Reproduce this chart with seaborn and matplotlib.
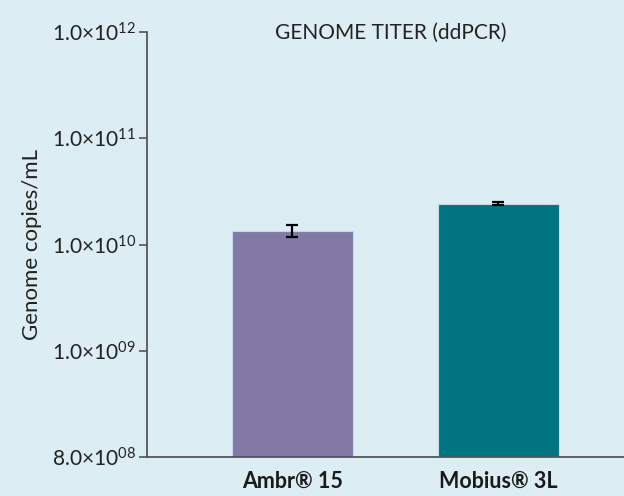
import matplotlib
matplotlib.use("Agg")
import matplotlib.pyplot as plt
import seaborn as sns
import pandas as pd

# data
systems = ["Ambr® 15", "Mobius® 3L"]
titer = [1.35e10, 2.42e10]
titer_err = [0.17e10, 0.07e10]
bar_colors = ["#8279a6", "#007582"]

tick_vals = [1e8, 1e9, 1e10, 1e11, 1e12]
tick_labels = ["8.0×10$^{08}$", "1.0×10$^{09}$", "1.0×10$^{10}$",
               "1.0×10$^{11}$", "1.0×10$^{12}$"]

bg = "#ddedf4"
sns.set_style("white")
plt.rcParams["font.family"] = ["Lato", "DejaVu Sans"]
plt.rcParams["mathtext.fontset"] = "custom"
plt.rcParams["mathtext.rm"] = "Lato"
plt.rcParams["mathtext.it"] = "Lato"

df = pd.DataFrame({"system": systems, "titer": titer})

fig = plt.figure(figsize=(6.24, 4.96), dpi=100, facecolor=bg)
ax = fig.add_axes([0.2356, 0.0786, 0.7644, 0.8569])
ax.set_facecolor(bg)

sns.barplot(data=df, x="system", y="titer", hue="system", palette=bar_colors,
            saturation=1, width=0.59, edgecolor="#c8d8e4", linewidth=0.8,
            legend=False, errorbar=None, ax=ax)
ax.errorbar(range(len(systems)), titer, yerr=titer_err, fmt="none",
            ecolor="black", elinewidth=1.6, capsize=4.5, capthick=1.6)

ax.set_yscale("log")
ax.set_ylim(1e8, 1e12)
ax.set_xlim(-0.706, 1.61)
ax.set_yticks(tick_vals)
ax.set_yticklabels(tick_labels)
ax.minorticks_off()
ax.tick_params(axis="y", which="major", direction="out", length=6, width=1.2,
               color="#555555", labelsize=15, labelcolor="#222222", pad=2, left=True)
ax.tick_params(axis="x", length=0, labelsize=15.5, pad=10)
for lbl in ax.get_xticklabels():
    lbl.set_fontweight("bold")
    lbl.set_color("#1a1a1a")

for s in ["top", "right"]:
    ax.spines[s].set_visible(False)
for s in ["left", "bottom"]:
    ax.spines[s].set_color("#555555")
    ax.spines[s].set_linewidth(1.3)

ax.set_xlabel("")
ax.set_ylabel("Genome copies/mL", fontsize=16, color="#222222")
ax.yaxis.set_label_coords(-0.22, 0.5)
ax.text(0.51, 0.998, "GENOME TITER (ddPCR)", transform=ax.transAxes,
        ha="center", va="center", fontsize=15, color="#222222")

fig.savefig("out.png", dpi=100, facecolor=bg)
